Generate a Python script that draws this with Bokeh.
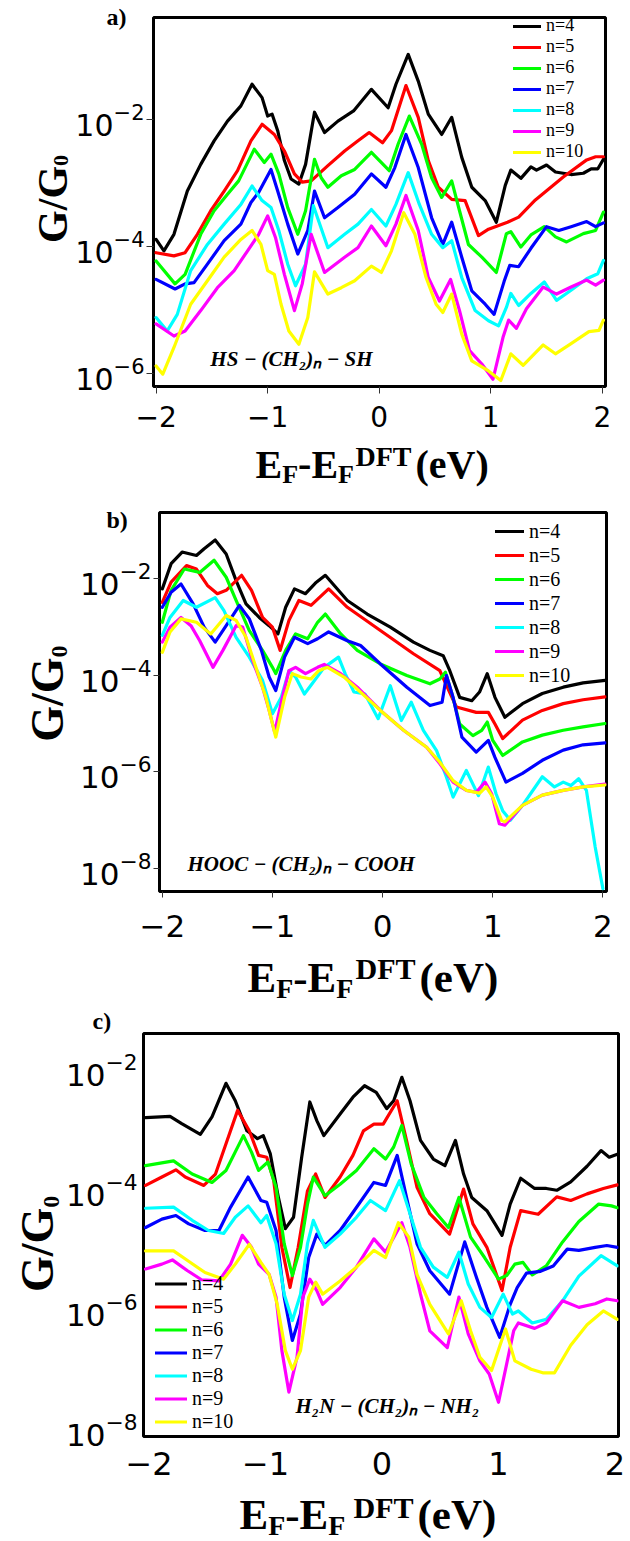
import math
from bokeh.plotting import figure
from bokeh.models import Range1d, FixedTicker, LogTickFormatter, Label, Legend, LegendItem, Title
from bokeh.layouts import column, row
from bokeh.core.properties import value
from bokeh.embed import file_html
from bokeh.resources import INLINE

COLORS = ["#000000", "#ff0000", "#00ff00", "#0000ff", "#00ffff", "#ff00ff", "#ffff00"]
NAMES = ["n=4", "n=5", "n=6", "n=7", "n=8", "n=9", "n=10"]
X_TICKS = [-2, -1, 0, 1, 2]
X_TICK_LABELS = ["\u22122", "\u22121", "0", "1", "2"]

# ---------------- panel a : HS-(CH2)n-SH  (values are log10(G/G0)) ----------------
a_x4 = [-2.0,-1.93,-1.84,-1.72,-1.60,-1.48,-1.36,-1.24,-1.14,-1.05,-1.00,-0.96,-0.91,-0.85,-0.79,-0.72,-0.66,-0.58,-0.49,-0.37,-0.23,-0.07,0.08,0.15,0.26,0.35,0.44,0.56,0.65,0.74,0.83,0.95,1.05,1.13,1.18,1.27,1.36,1.41,1.50,1.58,1.72,1.83,1.90,1.96,2.01]
a_e4 = [-3.89,-4.07,-3.81,-3.13,-2.71,-2.34,-2.03,-1.79,-1.45,-1.66,-1.95,-1.92,-2.18,-2.65,-2.94,-3.02,-2.71,-1.89,-2.21,-2.03,-1.87,-1.53,-1.82,-1.45,-0.98,-1.40,-1.92,-2.24,-1.97,-2.60,-3.07,-3.28,-3.62,-3.04,-2.80,-2.93,-2.75,-2.80,-2.72,-2.83,-2.87,-2.85,-2.78,-2.78,-2.63]
a_x5 = [-2.0,-1.84,-1.74,-1.63,-1.51,-1.39,-1.27,-1.15,-1.05,-0.94,-0.85,-0.76,-0.69,-0.61,-0.46,-0.31,-0.19,-0.09,0.03,0.11,0.24,0.35,0.44,0.53,0.65,0.77,0.89,0.98,1.15,1.25,1.40,1.65,1.86,1.94,2.01]
a_e5 = [-4.10,-4.15,-4.10,-3.81,-3.44,-3.13,-2.81,-2.34,-2.08,-2.24,-2.50,-2.86,-2.99,-2.97,-2.73,-2.50,-2.34,-2.21,-2.37,-2.18,-1.47,-1.97,-2.65,-3.07,-3.26,-3.28,-3.83,-3.73,-3.62,-3.54,-3.27,-2.91,-2.64,-2.59,-2.59]
a_x6 = [-2.0,-1.83,-1.74,-1.60,-1.48,-1.36,-1.26,-1.12,-1.03,-0.97,-0.90,-0.82,-0.73,-0.66,-0.58,-0.52,-0.46,-0.34,-0.22,-0.07,0.09,0.17,0.27,0.38,0.47,0.56,0.65,0.72,0.80,0.92,1.05,1.14,1.18,1.27,1.36,1.48,1.58,1.68,1.83,1.94,2.01]
a_e6 = [-4.23,-4.59,-4.44,-3.81,-3.44,-3.18,-2.97,-2.47,-2.68,-2.55,-2.86,-3.39,-3.81,-3.44,-2.63,-2.92,-3.07,-2.89,-2.79,-2.52,-2.81,-2.39,-1.95,-2.39,-2.92,-3.23,-2.97,-3.44,-3.97,-4.17,-4.41,-3.80,-3.77,-4.01,-3.82,-3.69,-3.85,-3.93,-3.80,-3.75,-3.46]
a_x7 = [-2.0,-1.83,-1.74,-1.66,-1.54,-1.39,-1.24,-1.15,-1.08,-0.97,-0.91,-0.82,-0.73,-0.64,-0.58,-0.49,-0.37,-0.22,-0.07,0.06,0.14,0.24,0.35,0.47,0.57,0.65,0.74,0.83,0.95,1.03,1.12,1.17,1.25,1.36,1.50,1.61,1.72,1.86,1.94,2.01]
a_e7 = [-4.52,-4.67,-4.59,-4.57,-4.28,-3.91,-3.65,-3.31,-3.15,-2.79,-3.13,-3.65,-4.12,-3.75,-3.13,-3.55,-3.39,-3.18,-2.86,-3.07,-2.76,-2.24,-2.76,-3.55,-3.97,-3.62,-4.17,-4.70,-4.91,-5.07,-4.55,-4.30,-4.32,-4.03,-3.69,-3.75,-3.69,-3.61,-3.69,-3.63]
a_x8 = [-2.0,-1.90,-1.81,-1.69,-1.54,-1.39,-1.24,-1.14,-1.05,-0.97,-0.90,-0.82,-0.75,-0.66,-0.59,-0.46,-0.31,-0.19,-0.07,0.06,0.15,0.26,0.36,0.47,0.57,0.65,0.74,0.86,0.98,1.07,1.14,1.18,1.25,1.36,1.48,1.59,1.72,1.86,1.96,2.01]
a_e8 = [-5.12,-5.33,-5.07,-4.38,-3.97,-3.65,-3.34,-3.05,-3.28,-3.39,-3.75,-4.28,-4.62,-4.28,-3.36,-4.02,-3.81,-3.65,-3.42,-3.68,-3.34,-2.84,-3.34,-3.81,-4.02,-3.91,-4.49,-5.01,-5.17,-5.25,-4.96,-4.74,-4.93,-4.74,-4.56,-4.85,-4.69,-4.51,-4.43,-4.22]
a_x9 = [-2.0,-1.84,-1.74,-1.60,-1.45,-1.30,-1.18,-1.08,-1.00,-0.93,-0.85,-0.76,-0.69,-0.61,-0.49,-0.31,-0.19,-0.07,0.06,0.15,0.24,0.35,0.44,0.54,0.64,0.72,0.81,0.92,1.02,1.11,1.16,1.23,1.32,1.47,1.59,1.72,1.86,1.94,2.01]
a_e9 = [-5.22,-5.41,-5.33,-5.01,-4.65,-4.38,-4.07,-3.81,-3.52,-3.86,-4.44,-5.01,-4.59,-3.81,-4.41,-4.17,-4.02,-3.68,-3.99,-3.65,-3.20,-3.75,-4.49,-4.86,-4.52,-5.01,-5.64,-5.85,-6.09,-5.43,-5.16,-5.29,-4.98,-4.64,-4.75,-4.64,-4.53,-4.61,-4.53]
a_x10 = [-2.0,-1.94,-1.84,-1.69,-1.54,-1.39,-1.24,-1.14,-1.06,-1.00,-0.94,-0.88,-0.81,-0.72,-0.64,-0.58,-0.46,-0.34,-0.22,-0.07,0.02,0.11,0.22,0.32,0.42,0.51,0.57,0.65,0.74,0.83,0.98,1.09,1.18,1.29,1.38,1.47,1.58,1.72,1.88,1.97,2.01]
a_e10 = [-5.88,-6.01,-5.59,-4.91,-4.54,-4.17,-3.89,-3.75,-3.97,-4.38,-4.44,-4.91,-5.33,-5.54,-5.12,-4.40,-4.75,-4.65,-4.54,-4.31,-4.41,-4.07,-3.47,-3.81,-4.49,-4.91,-5.04,-4.75,-5.38,-5.80,-5.96,-6.11,-5.69,-5.87,-5.71,-5.55,-5.69,-5.53,-5.34,-5.32,-5.16]

# ---------------- panel b : HOOC-(CH2)n-COOH ----------------
b_x4 = [-2.0,-1.92,-1.82,-1.69,-1.62,-1.52,-1.42,-1.33,-1.24,-1.12,-1.03,-0.95,-0.88,-0.80,-0.70,-0.61,-0.52,-0.32,-0.14,0.07,0.28,0.43,0.55,0.61,0.70,0.81,0.88,0.95,1.02,1.11,1.27,1.45,1.64,1.82,2.02]
b_e4 = [-2.22,-1.70,-1.46,-1.53,-1.39,-1.21,-1.50,-2.05,-2.53,-2.81,-2.98,-3.15,-2.60,-2.22,-2.32,-2.10,-1.94,-2.46,-2.74,-3.01,-3.32,-3.49,-3.60,-3.91,-4.46,-4.53,-4.35,-3.97,-4.46,-4.87,-4.59,-4.38,-4.25,-4.16,-4.11]
b_x5 = [-2.0,-1.92,-1.78,-1.69,-1.59,-1.50,-1.42,-1.28,-1.19,-1.09,-1.00,-0.93,-0.85,-0.76,-0.65,-0.49,-0.32,-0.02,0.28,0.52,0.67,0.85,0.96,1.02,1.09,1.27,1.45,1.64,1.82,2.02]
b_e5 = [-2.50,-2.08,-1.74,-1.81,-2.15,-2.32,-2.25,-1.94,-2.25,-2.81,-3.01,-3.49,-2.87,-2.46,-2.56,-2.22,-2.60,-3.08,-3.56,-3.91,-4.66,-4.77,-4.77,-5.01,-5.31,-4.93,-4.73,-4.59,-4.51,-4.45]
b_x6 = [-2.0,-1.92,-1.80,-1.66,-1.53,-1.42,-1.33,-1.21,-1.09,-1.00,-0.97,-0.88,-0.79,-0.68,-0.59,-0.52,-0.38,-0.23,-0.02,0.22,0.43,0.52,0.57,0.63,0.70,0.82,0.90,0.95,1.00,1.09,1.27,1.45,1.64,1.82,2.02]
b_e6 = [-2.91,-2.25,-1.81,-1.88,-1.63,-1.98,-2.46,-3.08,-3.49,-3.84,-3.97,-3.49,-3.15,-3.25,-2.91,-2.74,-3.15,-3.49,-3.77,-4.01,-4.18,-4.08,-3.94,-4.39,-5.01,-5.25,-5.14,-4.97,-5.35,-5.66,-5.38,-5.24,-5.14,-5.07,-5.00]
b_x7 = [-2.0,-1.92,-1.83,-1.72,-1.62,-1.52,-1.42,-1.30,-1.21,-1.10,-1.03,-0.97,-0.89,-0.80,-0.68,-0.59,-0.49,-0.32,-0.20,-0.02,0.22,0.43,0.54,0.58,0.64,0.72,0.85,0.96,1.02,1.12,1.27,1.45,1.64,1.82,2.02]
b_e7 = [-2.60,-2.29,-2.12,-2.53,-3.01,-3.32,-2.98,-2.56,-2.84,-3.49,-4.04,-4.32,-3.63,-3.22,-3.35,-3.25,-3.11,-3.29,-3.39,-3.77,-4.25,-4.63,-4.56,-4.01,-4.46,-5.28,-5.59,-5.35,-5.70,-6.21,-6.03,-5.76,-5.55,-5.44,-5.40]
b_x8 = [-2.0,-1.93,-1.81,-1.69,-1.52,-1.44,-1.33,-1.21,-1.09,-1.00,-0.92,-0.85,-0.79,-0.71,-0.64,-0.53,-0.40,-0.34,-0.26,-0.16,-0.04,0.07,0.17,0.26,0.37,0.49,0.58,0.64,0.76,0.87,0.96,1.03,1.09,1.16,1.27,1.45,1.56,1.64,1.71,1.78,1.85,1.93,2.0]
b_e8 = [-3.18,-2.81,-2.46,-2.60,-2.40,-2.67,-3.22,-3.63,-4.11,-4.80,-4.46,-3.91,-4.04,-4.39,-4.18,-3.84,-3.63,-3.97,-4.35,-4.39,-4.90,-4.22,-4.94,-4.56,-5.14,-5.56,-6.11,-6.52,-5.97,-6.49,-5.90,-6.45,-6.80,-7.00,-6.69,-6.10,-6.31,-6.21,-6.28,-6.14,-6.38,-7.55,-8.41]
b_x9 = [-2.0,-1.93,-1.83,-1.74,-1.66,-1.54,-1.45,-1.33,-1.27,-1.18,-1.09,-1.03,-0.98,-0.91,-0.85,-0.79,-0.70,-0.59,-0.53,-0.38,-0.23,-0.02,0.19,0.40,0.52,0.64,0.76,0.85,0.93,0.99,1.06,1.11,1.27,1.45,1.64,1.82,2.02]
b_e9 = [-3.32,-3.01,-2.81,-2.98,-3.29,-3.84,-3.49,-2.98,-3.01,-3.70,-4.25,-4.73,-5.18,-4.46,-3.91,-3.84,-3.97,-3.84,-3.78,-3.97,-4.25,-4.73,-5.14,-5.49,-5.83,-6.21,-6.38,-6.42,-6.21,-6.45,-7.07,-7.10,-6.69,-6.48,-6.38,-6.31,-6.25]
b_x10 = [-2.0,-1.93,-1.83,-1.69,-1.56,-1.42,-1.33,-1.24,-1.15,-1.06,-0.97,-0.89,-0.82,-0.74,-0.65,-0.58,-0.50,-0.35,-0.02,0.19,0.40,0.52,0.64,0.76,0.88,0.94,1.00,1.08,1.11,1.27,1.45,1.64,1.82,2.02]
b_e10 = [-3.53,-3.11,-2.84,-2.91,-3.15,-2.77,-2.87,-3.22,-3.84,-4.46,-5.28,-4.46,-3.97,-4.04,-4.08,-3.91,-3.84,-4.04,-4.73,-5.14,-5.49,-5.80,-6.18,-6.38,-6.44,-6.31,-6.52,-7.00,-7.03,-6.69,-6.48,-6.38,-6.31,-6.27]

# ---------------- panel c : H2N-(CH2)n-NH2 ----------------
c_x4 = [-2.03,-1.82,-1.72,-1.56,-1.46,-1.34,-1.26,-1.16,-1.07,-1.02,-0.96,-0.89,-0.83,-0.76,-0.69,-0.62,-0.56,-0.50,-0.36,-0.25,-0.15,-0.05,0.04,0.10,0.17,0.24,0.33,0.44,0.54,0.63,0.70,0.77,0.90,0.97,1.03,1.10,1.19,1.31,1.41,1.50,1.62,1.76,1.88,1.95,2.02]
c_e4 = [-2.80,-2.78,-2.90,-3.08,-2.79,-2.23,-2.52,-3.02,-3.15,-3.10,-3.40,-4.13,-4.65,-4.46,-3.46,-2.54,-2.85,-3.10,-2.74,-2.46,-2.27,-2.38,-2.65,-2.52,-2.13,-2.52,-3.18,-3.49,-3.60,-3.18,-3.74,-4.13,-4.35,-4.57,-4.76,-4.24,-3.81,-3.98,-3.98,-4.01,-3.87,-3.61,-3.35,-3.46,-3.41]
c_x5 = [-2.03,-1.89,-1.77,-1.69,-1.53,-1.43,-1.33,-1.24,-1.14,-1.06,-0.99,-0.93,-0.86,-0.79,-0.72,-0.64,-0.57,-0.49,-0.36,-0.25,-0.16,-0.07,0.01,0.13,0.21,0.30,0.41,0.58,0.70,0.78,0.90,1.03,1.10,1.19,1.34,1.50,1.62,1.76,1.90,2.02]
c_e5 = [-3.93,-3.79,-3.67,-3.79,-3.93,-3.74,-3.18,-2.68,-3.02,-3.43,-3.46,-3.85,-4.96,-5.63,-4.96,-4.02,-3.74,-4.13,-3.79,-3.43,-3.02,-2.91,-2.91,-2.52,-3.18,-3.96,-4.40,-4.74,-3.99,-4.57,-4.96,-5.68,-4.96,-4.35,-4.41,-4.12,-4.18,-4.07,-3.98,-3.92]
c_x6 = [-2.03,-1.79,-1.63,-1.46,-1.34,-1.19,-1.12,-1.06,-0.98,-0.91,-0.84,-0.77,-0.70,-0.64,-0.59,-0.49,-0.36,-0.22,-0.07,0.03,0.10,0.17,0.25,0.36,0.47,0.57,0.66,0.76,0.88,1.00,1.07,1.14,1.21,1.29,1.41,1.55,1.69,1.86,1.97,2.02]
c_e6 = [-3.60,-3.52,-3.74,-3.88,-3.68,-3.10,-3.38,-3.68,-3.54,-3.96,-4.90,-5.43,-4.96,-4.24,-3.79,-4.10,-3.91,-3.68,-3.32,-3.49,-3.29,-2.93,-3.57,-4.13,-4.40,-4.63,-4.13,-4.79,-5.13,-5.49,-5.43,-5.24,-5.21,-5.42,-5.27,-4.87,-4.53,-4.24,-4.27,-4.30]
c_x7 = [-2.03,-1.89,-1.77,-1.66,-1.52,-1.40,-1.30,-1.15,-1.04,-0.99,-0.91,-0.84,-0.77,-0.70,-0.63,-0.56,-0.49,-0.36,-0.25,-0.07,0.03,0.13,0.21,0.30,0.41,0.58,0.71,0.81,0.90,1.01,1.10,1.16,1.24,1.36,1.47,1.59,1.69,1.83,1.93,2.02]
c_e7 = [-4.63,-4.49,-4.43,-4.57,-4.68,-4.68,-4.29,-3.79,-4.18,-4.21,-4.68,-5.79,-6.51,-6.07,-5.13,-4.74,-4.93,-4.68,-4.38,-3.88,-3.93,-3.43,-4.13,-4.90,-5.35,-5.74,-4.87,-5.46,-5.96,-6.46,-5.91,-5.63,-5.39,-5.36,-5.27,-4.99,-5.01,-4.96,-4.93,-4.96]
c_x8 = [-2.03,-1.79,-1.63,-1.49,-1.36,-1.26,-1.15,-1.04,-0.99,-0.91,-0.84,-0.77,-0.70,-0.64,-0.59,-0.49,-0.36,-0.22,-0.10,0.03,0.15,0.24,0.33,0.44,0.56,0.66,0.74,0.84,0.94,1.04,1.12,1.17,1.29,1.41,1.55,1.69,1.88,2.02]
c_e8 = [-4.31,-4.29,-4.51,-4.68,-4.73,-4.46,-4.27,-4.55,-4.43,-4.90,-5.74,-6.18,-5.74,-4.90,-4.51,-4.96,-4.74,-4.46,-4.18,-4.35,-3.85,-4.40,-4.96,-5.29,-5.46,-5.04,-5.57,-5.96,-6.13,-5.74,-6.07,-6.02,-6.22,-6.16,-5.85,-5.44,-5.10,-5.27]
c_x9 = [-2.03,-1.89,-1.80,-1.67,-1.55,-1.40,-1.30,-1.20,-1.12,-1.06,-0.97,-0.91,-0.86,-0.80,-0.73,-0.68,-0.62,-0.56,-0.51,-0.36,-0.22,-0.07,0.03,0.17,0.24,0.33,0.41,0.56,0.66,0.74,0.84,0.92,1.00,1.07,1.13,1.17,1.31,1.41,1.55,1.69,1.83,1.93,2.02]
c_e9 = [-5.32,-5.24,-5.17,-5.35,-5.50,-5.52,-5.24,-4.76,-4.96,-5.24,-5.41,-5.79,-6.68,-7.37,-6.79,-5.79,-5.49,-5.68,-5.91,-5.63,-5.29,-4.82,-5.04,-4.55,-4.96,-5.74,-6.35,-6.63,-5.79,-6.40,-6.85,-7.07,-7.54,-6.90,-6.35,-6.22,-6.31,-6.22,-5.85,-5.96,-5.90,-5.82,-5.85]
c_x10 = [-2.03,-1.79,-1.67,-1.52,-1.36,-1.26,-1.14,-1.04,-0.97,-0.90,-0.83,-0.77,-0.70,-0.63,-0.57,-0.51,-0.36,-0.22,-0.07,0.03,0.14,0.23,0.30,0.41,0.57,0.68,0.76,0.84,0.94,1.06,1.14,1.28,1.38,1.48,1.62,1.76,1.90,2.02]
c_e10 = [-5.02,-5.02,-5.18,-5.38,-5.49,-5.24,-4.91,-5.21,-5.41,-5.91,-6.68,-6.99,-6.68,-5.79,-5.54,-5.74,-5.52,-5.29,-5.01,-5.13,-4.55,-4.79,-5.41,-5.91,-6.40,-5.85,-6.35,-6.79,-7.01,-6.32,-6.85,-6.99,-7.05,-7.05,-6.59,-6.25,-6.02,-6.16]

PANEL_A = [(a_x4, a_e4), (a_x5, a_e5), (a_x6, a_e6), (a_x7, a_e7), (a_x8, a_e8), (a_x9, a_e9), (a_x10, a_e10)]
PANEL_B = [(b_x4, b_e4), (b_x5, b_e5), (b_x6, b_e6), (b_x7, b_e7), (b_x8, b_e8), (b_x9, b_e9), (b_x10, b_e10)]
PANEL_C = [(c_x4, c_e4), (c_x5, c_e5), (c_x6, c_e6), (c_x7, c_e7), (c_x8, c_e8), (c_x9, c_e9), (c_x10, c_e10)]

SERIF = "Liberation Serif"
SANS = "DejaVu Sans"
BASE_FIX = 0.229   # rendered baseline sits this many font-sizes below the requested one


def blank(width, height):
    """A figure whose frame is the whole canvas: x, y are pixels (y up)."""
    p = figure(width=width, height=height, output_backend="svg", toolbar_location=None,
               x_range=Range1d(0, width), y_range=Range1d(0, height),
               x_axis_location=None, y_axis_location=None, min_border=0)
    p.outline_line_color = None
    p.background_fill_color = "white"
    p.border_fill_color = "white"
    p.grid.visible = False
    return p


def put(p, H, x, y_from_top, text, size, style="bold", angle=0.0, align="left"):
    if angle == 0.0:
        y_from_top -= BASE_FIX * size
    else:
        x -= BASE_FIX * size
    p.text(x=[x], y=[H - y_from_top], text=[text], text_font=value(SERIF),
           text_font_size=value("%.1fpx" % size), text_font_style=style,
           text_align=align, text_baseline="alphabetic", text_color="black", angle=angle)


def make_panel(curves, g):
    top, Ls, Hm, Hx = g["top"], g["Ls"], g["Hm"], g["Hx"]
    fl, fr, ft, fb = g["fl"], g["fr"], g["ft"], g["fb"]   # page pixels of the frame
    p = figure(width=630 - Ls, height=Hm, output_backend="svg", toolbar_location=None,
               y_axis_type="log",
               x_range=Range1d(g["x0"], g["x1"]),
               y_range=Range1d(10 ** g["e0"], 10 ** g["e1"]),
               min_border_left=fl - Ls, min_border_right=630 - fr,
               min_border_top=ft - top, min_border_bottom=top + Hm - fb)
    p.background_fill_color = "white"
    p.border_fill_color = "white"
    p.outline_line_color = "black"
    p.outline_line_width = 3
    p.xgrid.visible = False
    p.ygrid.visible = False

    p.xaxis.ticker = FixedTicker(ticks=X_TICKS)
    p.xaxis.major_label_overrides = {t: s for t, s in zip(X_TICKS, X_TICK_LABELS)}
    p.yaxis.ticker = FixedTicker(ticks=[10.0 ** k for k in g["yt"]])
    p.yaxis.formatter = LogTickFormatter()
    for ax in (p.xaxis[0], p.yaxis[0]):
        ax.axis_line_color = None
        ax.minor_tick_line_color = None
        ax.major_tick_in = 0
        ax.major_tick_out = g["tick"]
        ax.major_tick_line_color = "#333333" if g["tick"] > 0 else None
        ax.major_tick_line_width = 1
        ax.major_label_text_font = SANS
        ax.major_label_text_color = "black"
    p.xaxis.major_label_text_font_size = "%dpx" % g["xfs"]
    p.yaxis.major_label_text_font_size = "%dpx" % g["yfs"]
    p.xaxis.major_label_standoff = g["xstand"]
    p.yaxis.major_label_standoff = g["ystand"]

    rends = []
    for (xs, es), col in zip(curves, COLORS):
        r = p.line(xs, [10.0 ** v for v in es], line_color=col, line_width=3.2,
                   line_join="round", line_cap="round")
        rends.append(r)

    lg = g["leg"]
    legend = Legend(items=[LegendItem(label=n, renderers=[r]) for n, r in zip(NAMES, rends)],
                    location=(lg["x"] - fl, fb - lg["y"] - 7 * lg["rh"]),
                    orientation="vertical", padding=0, margin=0, spacing=0,
                    glyph_width=lg["gw"], glyph_height=lg["rh"], label_height=lg["rh"],
                    label_standoff=lg["st"], label_text_color="black",
                    label_text_font=SERIF, label_text_font_size="%dpx" % lg["fs"],
                    background_fill_alpha=0, border_line_alpha=0)
    p.add_layout(legend)

    # molecule formula inside the frame (data coordinates)
    fy = g["f_y"] - BASE_FIX * g["f_S"]
    fx = g["x0"] + (g["f_x"] - fl) / (fr - fl) * (g["x1"] - g["x0"])
    fe = g["e0"] + (fb - fy) / (fb - ft) * (g["e1"] - g["e0"])
    p.add_layout(Label(x=fx, y=10 ** fe, text=g["formula"], text_font=SERIF,
                       text_font_size="%dpx" % g["f_S"], text_font_style="bold italic",
                       text_align="left", text_baseline="alphabetic", text_color="black"))

    # panel letter: title in the top panel, bottom-anchored at frame top - standoff/2
    desc = 0.216 * 24
    st = int(round(2 * ((ft - top) - (g["let_y"] - top) - desc)))
    p.add_layout(Title(text=g["letter"], align="left", vertical_align="bottom",
                       offset=g["let_x"] - fl, standoff=st, text_font=SERIF,
                       text_font_size="24px", text_font_style="bold", text_color="black"), "above")

    # y axis title  G/G0 (rotated) in a strip left of the main figure:
    # "G/G" ends where the subscript "0" starts
    ys = blank(Ls, Hm)
    Sy, Ss = g["yl_S"], g["yl_sub"]
    put(ys, Hm, g["yl_x"], g["yl_join"] - top, "G/G", Sy, angle=math.pi / 2, align="right")
    put(ys, Hm, g["yl_subx"], g["yl_join"] - top, "0", Ss, angle=math.pi / 2, align="left")

    # x axis title  E_F - E_F^DFT (eV) in a strip below
    xs_ = blank(630, Hx)
    S = g["xl_S"]
    sub, sup = 0.65 * S, 0.70 * S
    B = g["xl_y"] - (top + Hm)
    pos = g["xl_pos"]
    put(xs_, Hx, pos[0], B, "E", S)
    put(xs_, Hx, pos[1], B + 0.18 * S, "F", sub)
    put(xs_, Hx, pos[2], B, "-", S)
    put(xs_, Hx, pos[3], B, "E", S)
    put(xs_, Hx, pos[4], B + 0.18 * S, "F", sub)
    put(xs_, Hx, pos[5], B - g["sup_up"] * S, "DFT", sup)
    put(xs_, Hx, pos[6], B, "(eV)", S)

    return column(row(ys, p, spacing=0), xs_, spacing=0)


GA = dict(top=0, Ls=72, Hm=440, Hx=52, fl=152, fr=605, ft=17, fb=386,
          x0=-2.0233, x1=2.0286, e0=-6.204, e1=-0.400,
          yt=[-6, -4, -2], tick=7, xfs=28, yfs=30, xstand=12, ystand=2,
          leg=dict(x=512, y=22, gw=28, rh=20, st=5, fs=18),
          xl_S=40, xl_y=473, sup_up=0.27, xl_pos=[255, 281.7, 297.6, 310.9, 337.6, 355, 415],
          yl_S=42, yl_sub=22, yl_x=62, yl_subx=66, yl_join=177,
          letter="a)", let_x=105, let_y=24,
          formula="HS \u2212 (CH\u2082)\u2099 \u2212 SH", f_x=209, f_y=363, f_S=21)
GB = dict(top=492, Ls=72, Hm=460, Hx=51, fl=159, fr=606, ft=512, fb=891,
          x0=-2.0254, x1=2.0327, e0=-8.469, e1=-0.643,
          yt=[-8, -6, -4, -2], tick=6, xfs=31, yfs=31, xstand=17, ystand=2,
          leg=dict(x=495, y=519, gw=29, rh=24, st=5, fs=20),
          xl_S=43, xl_y=987, sup_up=0.27, xl_pos=[247, 275.7, 292.8, 307.1, 335.8, 355, 419],
          yl_S=46, yl_sub=24, yl_x=58, yl_subx=64, yl_join=668,
          letter="b)", let_x=106, let_y=527,
          formula="HOOC \u2212 (CH\u2082)\u2099 \u2212 COOH", f_x=187, f_y=868, f_S=21)
GC = dict(top=1003, Ls=63, Hm=486, Hx=52, fl=143, fr=618, ft=1033, fb=1436,
          x0=-2.048, x1=2.030, e0=-8.11, e1=-1.40,
          yt=[-8, -6, -4, -2], tick=0, xfs=32, yfs=31, xstand=15, ystand=6,
          leg=dict(x=155, y=1272, gw=32, rh=23, st=5, fs=20),
          xl_S=43, xl_y=1524, sup_up=0.23, xl_pos=[239, 267.7, 284.8, 299.1, 327.8, 353, 417],
          yl_S=46, yl_sub=24, yl_x=48, yl_subx=56, yl_join=1213,
          letter="c)", let_x=92, let_y=1028,
          formula="H\u2082N \u2212 (CH\u2082)\u2099 \u2212 NH\u2082", f_x=295, f_y=1410, f_S=21)

panels = [make_panel(PANEL_A, GA), make_panel(PANEL_B, GB), make_panel(PANEL_C, GC)]
layout = column(*panels, spacing=0)
open("out.html", "w").write(file_html(layout, INLINE))
